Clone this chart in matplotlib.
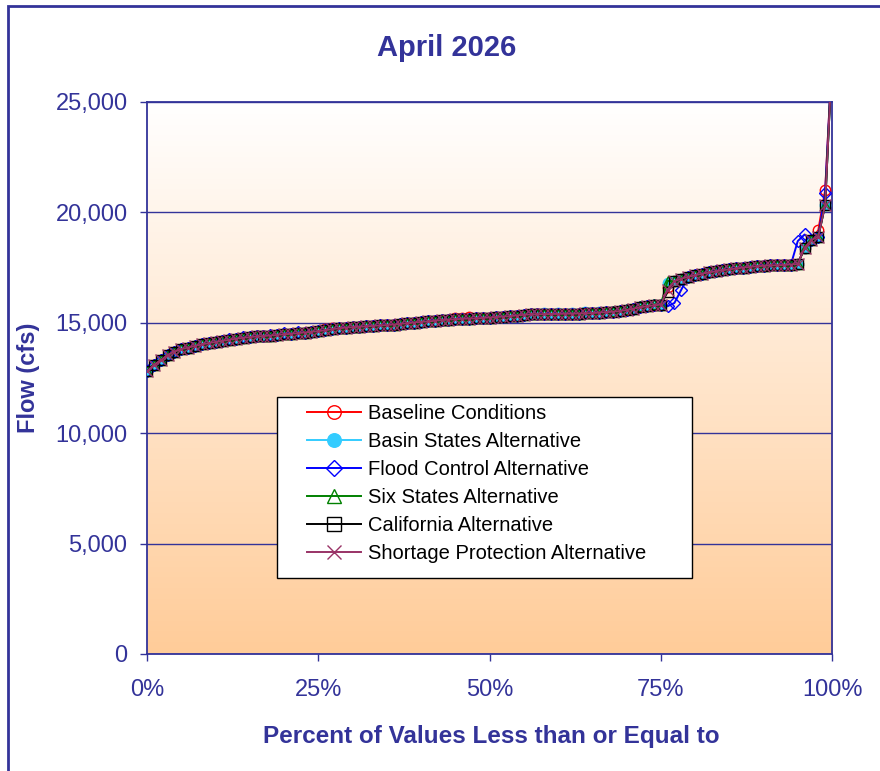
import matplotlib
matplotlib.use('Agg')
from matplotlib import pyplot as plt
from matplotlib.patches import Rectangle
from matplotlib.ticker import FuncFormatter
import numpy as np

# percent of values <= (one value per 1%)
pct = list(range(0, 101))

# shared curve (cfs)
base_flow = [12800, 13100, 13300, 13550, 13700, 13800, 13880, 13950, 14020, 14080,
             14130, 14180, 14230, 14280, 14320, 14350, 14380, 14400, 14420, 14450,
             14480, 14500, 14530, 14560, 14590, 14620, 14660, 14710, 14750, 14780,
             14800, 14820, 14840, 14860, 14880, 14900, 14920, 14950, 14980, 15010,
             15040, 15060, 15090, 15120, 15140, 15160, 15180, 15190, 15200, 15220,
             15240, 15260, 15280, 15300, 15330, 15360, 15380, 15390, 15390, 15400,
             15400, 15410, 15410, 15420, 15430, 15440, 15460, 15480, 15500, 15530,
             15580, 15640, 15700, 15750, 15790, 15820, 16400, 16880, 17000, 17080,
             17150, 17220, 17280, 17330, 17380, 17420, 17460, 17500, 17530, 17560,
             17580, 17600, 17610, 17620, 17640, 17660, 18400, 18750, 18900, 20350,
             27000]

# where each alternative departs from the shared curve
baseline_diff = {26: 14700, 27: 14760, 45: 15220, 46: 15240, 47: 15250, 76: 16600, 98: 19200, 99: 21000}
basin_diff = {58: 15440, 60: 15450, 62: 15460, 64: 15480, 66: 15510, 76: 16800}
flood_diff = {12: 14270, 14: 14360, 16: 14420, 18: 14460, 20: 14520, 22: 14570,
              76: 15750, 77: 15900, 78: 16500, 95: 18700, 96: 19000, 99: 20900}
six_diff = {68: 15550, 70: 15630, 72: 15760, 74: 15840, 76: 16900}
calif_diff = {}
shortage_diff = {76: 16500}

names = ['Baseline Conditions', 'Basin States Alternative', 'Flood Control Alternative',
         'Six States Alternative', 'California Alternative', 'Shortage Protection Alternative']
diffs = [baseline_diff, basin_diff, flood_diff, six_diff, calif_diff, shortage_diff]
colors = ['#FF0000', '#33CCFF', '#0000FF', '#008000', '#000000', '#993366']
markers = ['o', 'o', 'D', '^', 's', 'x']
faces = ['none', '#33CCFF', 'none', 'none', 'none', '#993366']
msizes = [7.5, 7.5, 6.5, 7.5, 7.5, 8]

navy = '#333399'
plt.rcParams['font.family'] = ['Liberation Sans', 'DejaVu Sans']

fig = plt.figure(figsize=(8.8, 7.71), dpi=100)
fig.patches.append(Rectangle((8 / 880, -0.1), 1.2, 1 - 6 / 771 + 0.1, transform=fig.transFigure,
                             fill=False, edgecolor=navy, linewidth=2))
ax = fig.add_axes([147 / 880, 1 - 654 / 771, 685 / 880, 552 / 771])

# gradient fill of the plot area
grad = np.linspace(0, 1, 256).reshape(-1, 1)
top = np.array([1.0, 1.0, 1.0])
bot = np.array([1.0, 0.80, 0.60])
img = top + (bot - top) * grad[:, :, None]
ax.imshow(img, extent=[0, 1, 0, 25000], aspect='auto', zorder=0, origin='upper')

x = np.array(pct) / 100.0
for name, d, c, m, fc, ms in zip(names, diffs, colors, markers, faces, msizes):
    y = [d.get(i, v) for i, v in enumerate(base_flow)]
    ax.plot(x, y, color=c, marker=m, markerfacecolor=fc, markeredgecolor=c,
            markersize=ms, markeredgewidth=1.0, linewidth=1.4, label=name, zorder=3)

ax.set_xlim(0, 1)
ax.set_ylim(0, 25000)
ax.set_xticks([0, 0.25, 0.5, 0.75, 1.0])
ax.set_yticks(range(0, 25001, 5000))
ax.xaxis.set_major_formatter(FuncFormatter(lambda v, p: '%d%%' % round(v * 100)))
ax.yaxis.set_major_formatter(FuncFormatter(lambda v, p: '{:,.0f}'.format(v)))
ax.grid(axis='y', color=navy, linewidth=1.0, zorder=1)
ax.set_axisbelow(True)
for s in ax.spines.values():
    s.set_color(navy)
    s.set_linewidth(1.3)
ax.tick_params(axis='both', colors=navy, labelcolor=navy, labelsize=17, length=5, width=1)
ax.tick_params(axis='x', pad=13)
ax.tick_params(axis='y', pad=9)

# legend box drawn separately to get Excel-like padding
box = Rectangle((130 / 685, 76 / 552), 415 / 685, 181 / 552, transform=ax.transAxes,
                facecolor='white', edgecolor='black', linewidth=1.0, zorder=5)
ax.add_patch(box)
leg = ax.legend(loc='upper left', bbox_to_anchor=(160 / 685, 250 / 552), fontsize=14.5,
                frameon=False, handlelength=2.7, borderpad=0, labelspacing=0.45,
                handletextpad=0.35, borderaxespad=0, markerscale=1.3)
leg.set_zorder(6)

fig.text(447 / 880, 1 - 48 / 771, 'April 2026', ha='center', va='center',
         fontsize=21, fontweight='bold', color=navy)
fig.text(28 / 880, 1 - 378 / 771, 'Flow (cfs)', ha='center', va='center', rotation=90,
         fontsize=17, fontweight='bold', color=navy)
fig.text(491 / 880, 1 - 737 / 771, 'Percent of Values Less than or Equal to', ha='center',
         va='center', fontsize=17.5, fontweight='bold', color=navy)

fig.savefig('out.png', dpi=100)
